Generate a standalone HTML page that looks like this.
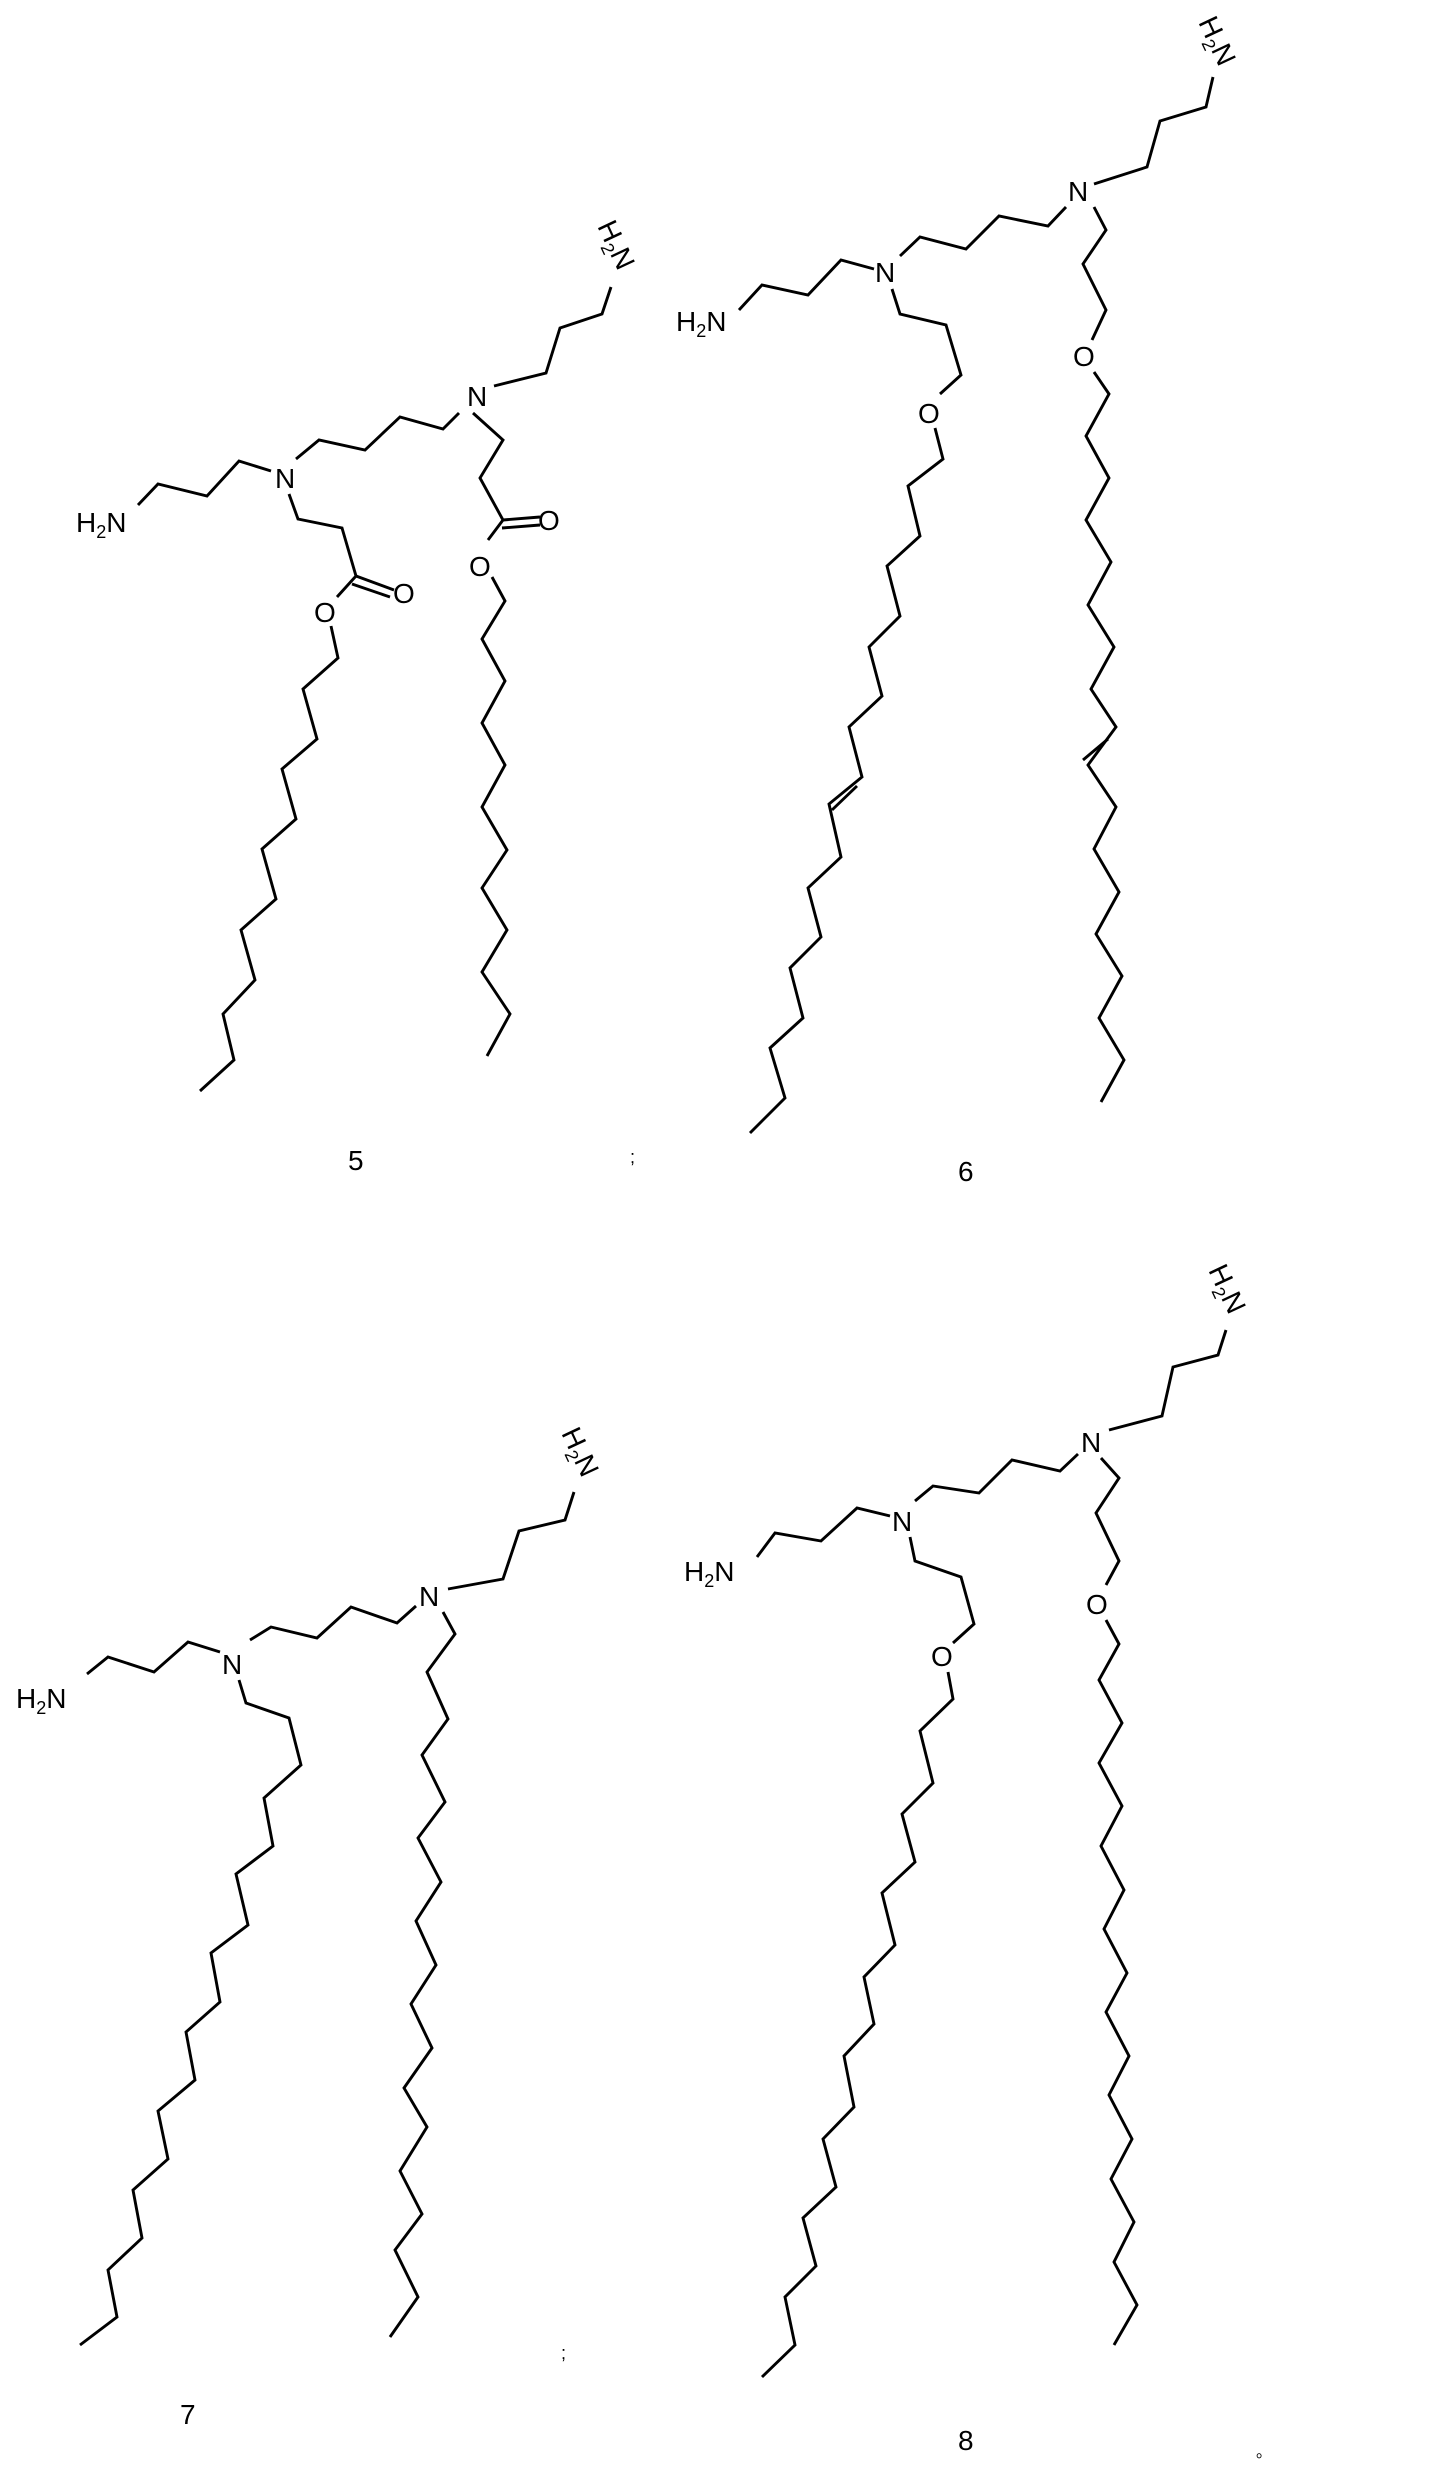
<!DOCTYPE html>
<html><head><meta charset="utf-8"><style>
html,body{margin:0;padding:0;background:#fff;}
svg{display:block;}
text{font-family:"Liberation Sans",sans-serif;fill:#000;}
</style></head><body>
<svg width="1439" height="2482" viewBox="0 0 1439 2482" xmlns="http://www.w3.org/2000/svg">
<g fill="none" stroke="#000" stroke-width="2.9" stroke-linejoin="miter">
<!-- 5 -->
<polyline points="138,505 158,484 207,496 239,461 271,471"/>
<polyline points="296,459 319,440 365,450 400,417 443,429 459,413"/>
<polyline points="494,386 546,373 560,328 602,314 611,287"/>
<polyline points="289,494 298,519 342,528 356,576 337,597"/>
<line x1="356" y1="576" x2="394" y2="590"/><line x1="352" y1="584" x2="390" y2="597"/>
<polyline points="331,626 338,658 303,689 317,739 282,769 296,819 262,849 276,899 241,930 255,980 223,1014 234,1060 200,1091"/>
<polyline points="473,413 503,440 480,478 503,520 488,540"/>
<line x1="503" y1="520" x2="540" y2="517"/><line x1="502" y1="528" x2="540" y2="525"/>
<polyline points="492,577 505,601 482,639 505,681 482,723 505,765 482,807 507,850 482,888 507,930 482,972 510,1014 487,1056"/>
<!-- 6 -->
<polyline points="739,310 762,285 808,295 841,260 874,269"/>
<polyline points="900,256 920,237 966,249 999,216 1048,226 1066,207"/>
<polyline points="1094,184 1147,167 1160,121 1206,107 1213,77"/>
<polyline points="892,289 900,314 946,325 961,375 940,394"/>
<polyline points="935,428 943,459 908,486 920,536 887,566 900,616 869,647 882,696 849,727 862,777 829,804 841,857 808,888 821,937 790,968 803,1018 770,1048 785,1098 750,1133"/>
<line x1="857" y1="786" x2="832" y2="810"/>
<polyline points="1094,207 1106,230 1083,264 1106,310 1092,340"/>
<polyline points="1094,372 1109,394 1086,436 1109,478 1086,520 1111,562 1088,605 1114,647 1091,689 1116,727 1088,765 1116,807 1094,849 1119,892 1096,934 1122,976 1099,1018 1124,1060 1101,1102"/>
<line x1="1108" y1="739" x2="1083" y2="760"/>
<!-- 7 -->
<polyline points="87,1674 108,1657 154,1672 188,1642 220,1652"/>
<polyline points="250,1640 271,1627 317,1638 351,1607 397,1623 416,1606"/>
<polyline points="448,1589 503,1579 519,1531 565,1520 574,1492"/>
<polyline points="239,1680 246,1703 289,1718 301,1765 264,1798 273,1846 236,1874 248,1925 211,1953 220,2002 186,2032 195,2080 158,2111 168,2159 133,2190 142,2238 108,2270 117,2317 80,2345"/>
<polyline points="443,1612 455,1634 427,1672 448,1719 422,1755 445,1802 418,1838 441,1882 416,1921 436,1965 411,2004 432,2048 404,2088 427,2127 400,2171 422,2214 395,2250 418,2297 390,2337"/>
<!-- 8 -->
<polyline points="757,1557 775,1533 821,1541 857,1508 890,1516"/>
<polyline points="915,1501 933,1486 979,1493 1012,1460 1060,1471 1078,1454"/>
<polyline points="1109,1430 1162,1416 1173,1367 1218,1355 1226,1330"/>
<polyline points="910,1537 915,1561 961,1577 974,1624 953,1643"/>
<polyline points="948,1672 953,1699 920,1731 933,1783 902,1814 915,1862 882,1893 895,1945 864,1977 874,2024 844,2056 854,2107 823,2139 836,2187 803,2218 816,2266 785,2297 795,2345 762,2377"/>
<polyline points="1101,1458 1119,1478 1096,1513 1119,1561 1106,1585"/>
<polyline points="1106,1620 1119,1644 1099,1680 1122,1723 1099,1763 1122,1806 1101,1846 1124,1890 1104,1929 1127,1973 1106,2012 1129,2056 1109,2095 1132,2139 1111,2179 1134,2222 1114,2262 1137,2305 1114,2345"/>
</g>
<g font-size="28">
<!-- 5 -->
<text x="76" y="532">H<tspan font-size="18" dy="6">2</tspan><tspan dy="-6">N</tspan></text>
<text x="275" y="488">N</text>
<text x="467" y="406">N</text>
<text x="0" y="0" transform="translate(597,226) rotate(65)">H<tspan font-size="18" dy="6">2</tspan><tspan dy="-6">N</tspan></text>
<text x="393" y="603">O</text>
<text x="538" y="530">O</text>
<text x="314" y="622">O</text>
<text x="469" y="576">O</text>
<text x="348" y="1170">5</text>
<text x="630" y="1163" font-size="18">;</text>
<!-- 6 -->
<text x="676" y="331">H<tspan font-size="18" dy="6">2</tspan><tspan dy="-6">N</tspan></text>
<text x="875" y="282">N</text>
<text x="1068" y="201">N</text>
<text x="0" y="0" transform="translate(1198,22) rotate(65)">H<tspan font-size="18" dy="6">2</tspan><tspan dy="-6">N</tspan></text>
<text x="918" y="423">O</text>
<text x="1073" y="366">O</text>
<text x="958" y="1181">6</text>
<!-- 7 -->
<text x="16" y="1708">H<tspan font-size="18" dy="6">2</tspan><tspan dy="-6">N</tspan></text>
<text x="222" y="1674">N</text>
<text x="419" y="1606">N</text>
<text x="0" y="0" transform="translate(561,1433) rotate(65)">H<tspan font-size="18" dy="6">2</tspan><tspan dy="-6">N</tspan></text>
<text x="180" y="2424">7</text>
<text x="561" y="2359" font-size="18">;</text>
<!-- 8 -->
<text x="684" y="1581">H<tspan font-size="18" dy="6">2</tspan><tspan dy="-6">N</tspan></text>
<text x="892" y="1531">N</text>
<text x="1081" y="1452">N</text>
<text x="0" y="0" transform="translate(1208,1270) rotate(65)">H<tspan font-size="18" dy="6">2</tspan><tspan dy="-6">N</tspan></text>
<text x="931" y="1666">O</text>
<text x="1086" y="1614">O</text>
<text x="958" y="2450">8</text>
<text x="1256" y="2457" font-size="16">。</text>
</g>
</svg>
</body></html>
